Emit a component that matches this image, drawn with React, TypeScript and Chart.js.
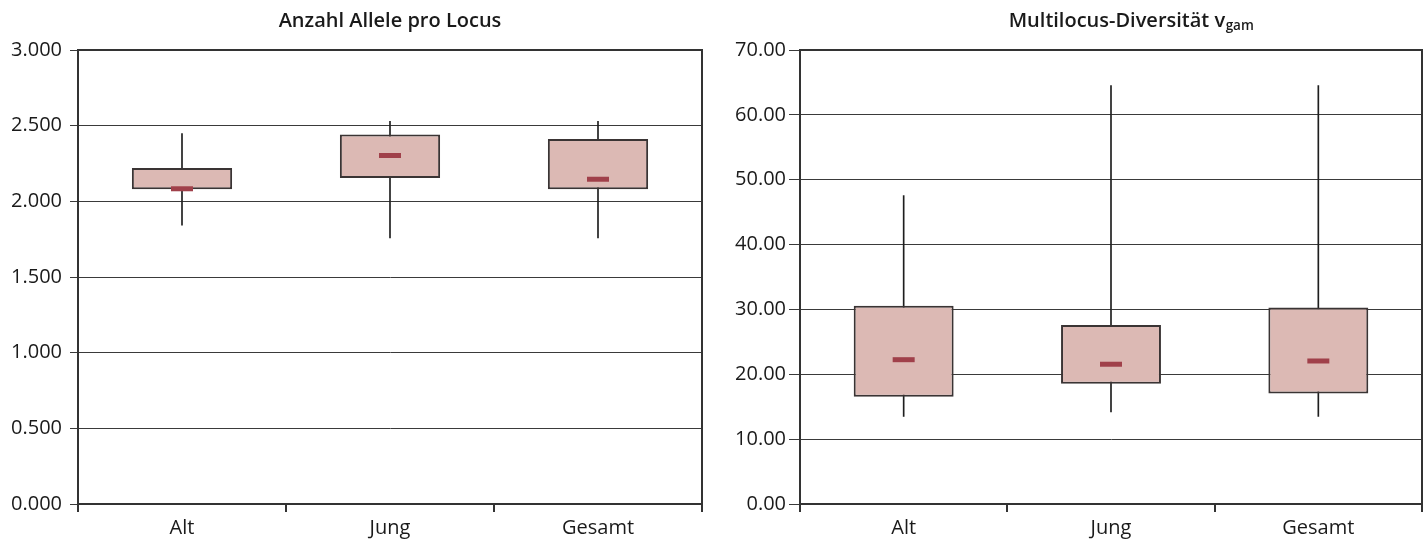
import React, { useEffect, useRef } from 'react';
import { Chart, registerables } from 'chart.js';

Chart.register(...registerables);

// ---------- data ----------
const categories = ['Alt', 'Jung', 'Gesamt'];

// Anzahl Allele pro Locus
const alleleMin = [1.843, 1.759, 1.759];
const alleleQ1 = [2.08, 2.155, 2.08];
const alleleMedian = [2.083, 2.303, 2.146];
const alleleQ3 = [2.221, 2.442, 2.412];
const alleleMax = [2.447, 2.528, 2.528];

// Multilocus-Diversität v_gam
const vgamMin = [13.5, 14.2, 13.5];
const vgamQ1 = [16.55, 18.55, 17.05];
const vgamMedian = [22.25, 21.55, 22.05];
const vgamQ3 = [30.55, 27.6, 30.3];
const vgamMax = [47.55, 64.5, 64.5];

// axis tick settings
const alleleAxisRange = [0, 3];
const alleleAxisStep = 0.5;
const alleleDecimals = 3;
const vgamAxisRange = [0, 70];
const vgamAxisStep = 10;
const vgamDecimals = 2;

// titles
const alleleTitle = 'Anzahl Allele pro Locus';
const vgamTitle = 'Multilocus-Diversität v';
const vgamTitleSub = 'gam';

// ---------- styling ----------
const FONT = '"Open Sans", "Noto Sans", sans-serif';
const TEXT = '#1a1a1a';
const LINE = '#333333';
const BOX_FILL = '#DCB9B4';
const BOX_BORDER = '#3a3434';
const MEDIAN = '#A0404A';

const titlePlugin = {
  id: 'customTitle',
  afterDraw(chart: any, _args: any, opts: any) {
    const { ctx, chartArea } = chart;
    ctx.save();
    const mainFont = `600 20px ${FONT}`;
    const subFont = `600 13.5px ${FONT}`;
    ctx.font = mainFont;
    const w1 = ctx.measureText(opts.text).width;
    let w2 = 0;
    if (opts.sub) {
      ctx.font = subFont;
      w2 = ctx.measureText(opts.sub).width;
    }
    const cx = (chartArea.left + chartArea.right) / 2 + (opts.dx || 0);
    const x0 = cx - (w1 + w2) / 2;
    ctx.fillStyle = TEXT;
    ctx.textAlign = 'left';
    ctx.textBaseline = 'alphabetic';
    ctx.font = mainFont;
    ctx.fillText(opts.text, x0, opts.baseline);
    if (opts.sub) {
      ctx.font = subFont;
      ctx.fillText(opts.sub, x0 + w1 + 0.5, opts.baseline + 3);
    }
    ctx.restore();
  },
};

const framePlugin = {
  id: 'frame',
  beforeDatasetsDraw(chart: any) {
    const { ctx, chartArea } = chart;
    ctx.save();
    ctx.strokeStyle = LINE;
    ctx.lineWidth = 2;
    ctx.beginPath();
    ctx.moveTo(chartArea.left, chartArea.top);
    ctx.lineTo(chartArea.right, chartArea.top);
    ctx.lineTo(chartArea.right, chartArea.bottom);
    ctx.stroke();
    ctx.restore();
  },
};

type Spec = {
  min: number[];
  q1: number[];
  median: number[];
  q3: number[];
  max: number[];
  range: number[];
  step: number;
  decimals: number;
  title: string;
  sub?: string;
  titleDx: number;
  yWidth: number;
  yTickLength: number;
  yTickPadding: number;
  padRight: number;
};

function makeConfig(s: Spec): any {
  return {
    type: 'bar',
    data: {
      labels: categories,
      datasets: [
        {
          type: 'line',
          label: 'Median',
          data: s.median,
          showLine: false,
          pointStyle: 'line',
          pointRadius: 11,
          pointHoverRadius: 11,
          pointBorderWidth: 5,
          pointHoverBorderWidth: 5,
          pointBorderColor: MEDIAN,
          pointBackgroundColor: MEDIAN,
          order: 0,
        },
        {
          type: 'bar',
          label: 'Box',
          data: s.q1.map((v, i) => [v, s.q3[i]]),
          backgroundColor: BOX_FILL,
          borderColor: BOX_BORDER,
          borderWidth: 2,
          borderSkipped: false,
          categoryPercentage: 1,
          barPercentage: 0.482,
          order: 1,
        },
        {
          type: 'bar',
          label: 'Whisker',
          data: s.min.map((v, i) => [v, s.max[i]]),
          backgroundColor: '#1e1e1e',
          borderWidth: 0,
          borderSkipped: false,
          barThickness: 1,
          order: 2,
        },
      ],
    },
    options: {
      responsive: false,
      animation: false,
      devicePixelRatio: 1,
      layout: {
        autoPadding: false,
        padding: { top: 50, right: s.padRight, bottom: 0, left: 0 },
      },
      plugins: {
        legend: { display: false },
        tooltip: { enabled: false },
        title: { display: false },
        customTitle: { text: s.title, sub: s.sub, dx: s.titleDx, baseline: 27 },
      },
      scales: {
        x: {
          stacked: true,
          offset: true,
          grid: {
            display: true,
            drawOnChartArea: false,
            drawTicks: true,
            tickLength: 8,
            offset: true,
            color: LINE,
            lineWidth: 2,
          },
          border: { display: true, color: LINE, width: 2 },
          ticks: {
            color: TEXT,
            font: { family: FONT, size: 20 },
            padding: 4,
            maxRotation: 0,
          },
          afterFit: (scale: any) => {
            scale.height = 38;
            scale.paddingLeft = 0;
            scale.paddingRight = 0;
          },
        },
        y: {
          stacked: false,
          min: s.range[0],
          max: s.range[1],
          ticks: {
            stepSize: s.step,
            color: TEXT,
            font: { family: FONT, size: 20 },
            padding: s.yTickPadding,
            callback: (v: any) => Number(v).toFixed(s.decimals),
          },
          grid: {
            color: '#3a3a3a',
            lineWidth: 1,
            drawTicks: true,
            tickLength: s.yTickLength,
          },
          border: { display: true, color: LINE, width: 2 },
          afterFit: (scale: any) => {
            scale.width = s.yWidth;
          },
        },
      },
    },
    plugins: [framePlugin, titlePlugin],
  };
}

function BoxChart({ spec, left, width }: { spec: Spec; left: number; width: number }) {
  const ref = useRef<HTMLCanvasElement | null>(null);
  useEffect(() => {
    if (!ref.current) return;
    const chart = new Chart(ref.current, makeConfig(spec));
    return () => chart.destroy();
  }, []);
  return (
    <canvas
      ref={ref}
      width={width}
      height={542}
      style={{ position: 'absolute', left, top: 0, width, height: 542, display: 'block' }}
    />
  );
}

const alleleSpec: Spec = {
  min: alleleMin,
  q1: alleleQ1,
  median: alleleMedian,
  q3: alleleQ3,
  max: alleleMax,
  range: alleleAxisRange,
  step: alleleAxisStep,
  decimals: alleleDecimals,
  title: alleleTitle,
  titleDx: 0,
  yWidth: 78,
  yTickLength: 8,
  yTickPadding: 8,
  padRight: 10,
};

const vgamSpec: Spec = {
  min: vgamMin,
  q1: vgamQ1,
  median: vgamMedian,
  q3: vgamQ3,
  max: vgamMax,
  range: vgamAxisRange,
  step: vgamAxisStep,
  decimals: vgamDecimals,
  title: vgamTitle,
  sub: vgamTitleSub,
  titleDx: 20,
  yWidth: 88,
  yTickLength: 11,
  yTickPadding: 3,
  padRight: 4,
};

export default function App() {
  return (
    <div
      style={{
        position: 'absolute',
        left: 0,
        top: 0,
        width: 1426,
        height: 542,
        background: '#ffffff',
        overflow: 'hidden',
      }}
    >
      <BoxChart spec={alleleSpec} left={0} width={712} />
      <BoxChart spec={vgamSpec} left={712} width={714} />
    </div>
  );
}
